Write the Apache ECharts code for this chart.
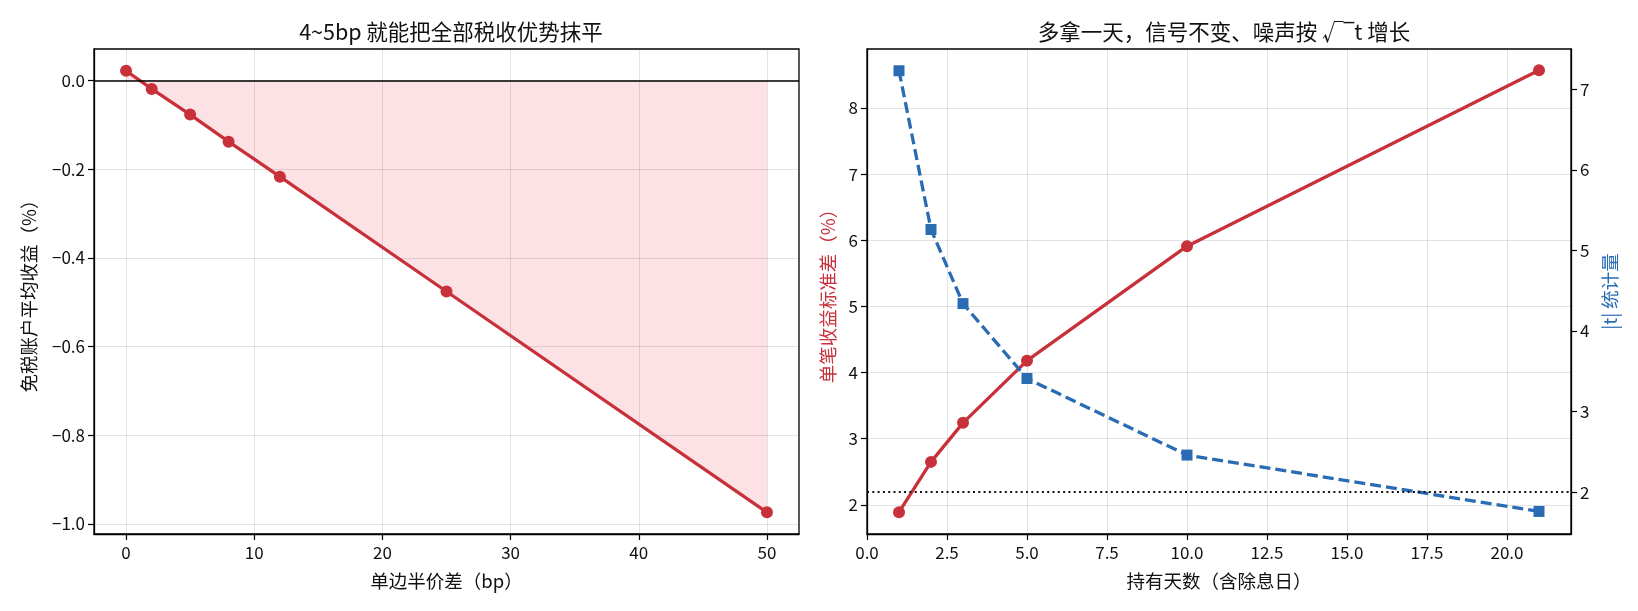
<!DOCTYPE html>
<html>
<head>
<meta charset="utf-8">
<script src="https://cdn.jsdelivr.net/npm/echarts@6/dist/echarts.min.js"></script>
<style>
  html, body { margin: 0; padding: 0; background: #fff; }
  #main { width: 1638px; height: 611px; }
</style>
</head>
<body>
<div id="main"></div>
<script>
// left panel: spread vs avg return of tax-free account
const spreadBp = [0, 2, 5, 8, 12, 25, 50];
const avgReturn = [0.022, -0.019, -0.077, -0.138, -0.217, -0.476, -0.974];
const spreadTicks = [0, 10, 20, 30, 40, 50];
const returnTicks = [-1.0, -0.8, -0.6, -0.4, -0.2, 0.0];

// right panel: holding days vs std / |t|
const holdDays = [1, 2, 3, 5, 10, 21];
const retStd = [1.89, 2.65, 3.24, 4.18, 5.91, 8.57];
const tStat = [7.23, 5.26, 4.34, 3.41, 2.46, 1.76];
const dayTicks = [0, 2.5, 5, 7.5, 10, 12.5, 15, 17.5, 20];
const stdTicks = [2, 3, 4, 5, 6, 7, 8];
const tTicks = [2, 3, 4, 5, 6, 7];
const tThreshold = 2;

const RED = '#c8303a';
const BLUE = '#2a6cb4';
const FONT = '"Noto Sans CJK SC", "Noto Sans", sans-serif';
const TICK_FS = 17;
const NAME_FS = 18.5;
const TITLE_FS = 21.5;

function pairs(xs, ys) {
  return xs.map((x, i) => [x, ys[i]]);
}

function minus(s) {
  return String(s).replace('-', '\u2212');
}

const chart = echarts.init(document.getElementById('main'), null, { renderer: 'canvas' });

function tickCfg(values) {
  return { show: true, inside: false, length: 6, customValues: values, lineStyle: { color: '#000', width: 1.2 } };
}

function labelCfg(values, fmt, margin) {
  return { color: '#111', fontSize: TICK_FS, fontFamily: FONT, margin: margin, customValues: values, formatter: fmt };
}

function baseAxis(extra) {
  return Object.assign({
    type: 'value',
    axisLine: { show: true, onZero: false, lineStyle: { color: '#000', width: 1.3 } },
    splitLine: { show: true, lineStyle: { color: 'rgba(0,0,0,0.11)', width: 1 } },
    nameTextStyle: { color: '#111', fontSize: NAME_FS, fontFamily: FONT },
    nameLocation: 'middle'
  }, extra);
}

const option = {
  animation: false,
  backgroundColor: '#fff',
  textStyle: { fontFamily: FONT },
  title: [
    {
      text: '4~5bp 就能把全部税收优势抹平',
      left: 446, top: 16, textAlign: 'center',
      textStyle: { fontSize: TITLE_FS, fontWeight: 'normal', color: '#111', fontFamily: FONT }
    },
    {
      text: '多拿一天，信号不变、噪声按 √‾t 增长',
      left: 1219, top: 16, textAlign: 'center',
      textStyle: { fontSize: TITLE_FS, fontWeight: 'normal', color: '#111', fontFamily: FONT }
    }
  ],
  grid: [
    { left: 94, right: 839, top: 49, bottom: 77, show: true, borderColor: '#000', borderWidth: 1.3 },
    { left: 867, right: 67, top: 49, bottom: 77, show: true, borderColor: '#000', borderWidth: 1.3 }
  ],
  xAxis: [
    baseAxis({
      gridIndex: 0, min: -2.5, max: 52.5, splitNumber: 5,
      name: '单边半价差（bp）', nameGap: 38,
      axisTick: tickCfg(spreadTicks),
      axisLabel: labelCfg(spreadTicks, v => String(v), 10)
    }),
    baseAxis({
      gridIndex: 1, min: 0, max: 22, interval: 2.5,
      name: '持有天数（含除息日）', nameGap: 38,
      axisTick: tickCfg(dayTicks),
      axisLabel: labelCfg(dayTicks, v => v.toFixed(1), 10)
    })
  ],
  yAxis: [
    baseAxis({
      gridIndex: 0, min: -1.023, max: 0.071, splitNumber: 5,
      name: '免税账户平均收益（%）', nameGap: 56, nameRotate: 90,
      axisTick: tickCfg(returnTicks),
      axisLabel: labelCfg(returnTicks, v => minus(v.toFixed(1)), 9)
    }),
    baseAxis({
      gridIndex: 1, min: 1.56, max: 8.89, splitNumber: 7,
      name: '单笔收益标准差（%）', nameGap: 30, nameRotate: 90,
      nameTextStyle: { color: RED, fontSize: NAME_FS, fontFamily: FONT },
      axisTick: tickCfg(stdTicks),
      axisLabel: labelCfg(stdTicks, v => String(v), 9)
    }),
    baseAxis({
      gridIndex: 1, position: 'right', min: 1.48, max: 7.5, splitNumber: 6,
      name: '|t| 统计量', nameGap: 30, nameRotate: 90,
      nameTextStyle: { color: BLUE, fontSize: NAME_FS, fontFamily: FONT },
      splitLine: { show: false },
      axisTick: tickCfg(tTicks),
      axisLabel: labelCfg(tTicks, v => String(v), 9)
    })
  ],
  series: [
    {
      type: 'line',
      xAxisIndex: 0, yAxisIndex: 0,
      data: pairs(spreadBp, avgReturn),
      symbol: 'circle', symbolSize: 12,
      itemStyle: { color: RED },
      lineStyle: { color: RED, width: 3.3 },
      areaStyle: { origin: 0, color: 'rgba(240,40,60,0.19)' },
      z: 3,
      markLine: {
        silent: true, symbol: 'none', animation: false,
        label: { show: false },
        lineStyle: { color: '#000', width: 1.5, type: 'solid' },
        data: [{ yAxis: 0 }]
      }
    },
    {
      type: 'line',
      xAxisIndex: 1, yAxisIndex: 1,
      data: pairs(holdDays, retStd),
      symbol: 'circle', symbolSize: 12,
      itemStyle: { color: RED },
      lineStyle: { color: RED, width: 3.3 },
      z: 3
    },
    {
      type: 'line',
      xAxisIndex: 1, yAxisIndex: 2,
      data: pairs(holdDays, tStat),
      symbol: 'rect', symbolSize: 11,
      itemStyle: { color: BLUE },
      lineStyle: { color: BLUE, width: 3.3, type: [11, 5] },
      z: 3,
      markLine: {
        silent: true, symbol: 'none', animation: false,
        label: { show: false },
        lineStyle: { color: '#111', width: 2, type: [2, 3.3] },
        data: [{ yAxis: tThreshold }]
      }
    }
  ]
};

chart.setOption(option);
</script>
</body>
</html>
